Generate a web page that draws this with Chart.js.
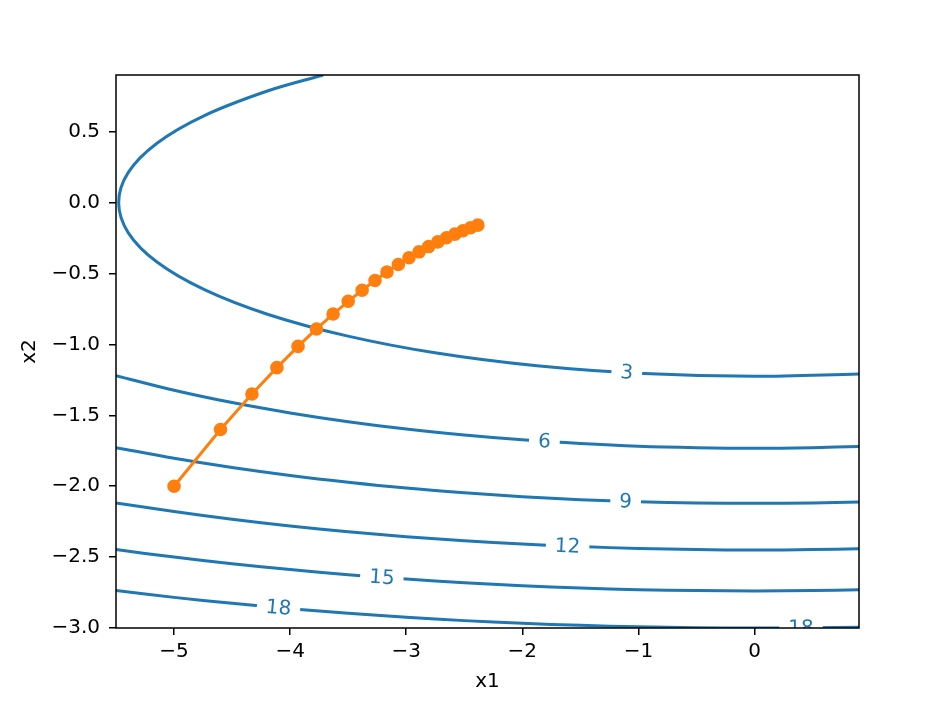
<!DOCTYPE html>
<html>
<head>
<meta charset="utf-8">
<script src="https://cdn.jsdelivr.net/npm/chart.js@4.4.1/dist/chart.umd.min.js"></script>
<style>
  html, body { margin: 0; padding: 0; background: #fff; }
</style>
</head>
<body>
<canvas id="c" width="941" height="702"></canvas>
<script>
// 等高线的级别
const contourLevels = [3, 6, 9, 12, 15, 18];

// 级别 3 的椭圆（可见部分）
const level3X1 = [-3.715, -4.196, -4.743, -5.147, -5.394, -5.477, -5.394, -5.147, -4.743, -4.196, -3.521, -2.739, -1.873, -0.951, 0.0, 0.9];
const level3X2 = [0.9, 0.787, 0.612, 0.419, 0.213, 0.0, -0.213, -0.419, -0.612, -0.787, -0.938, -1.061, -1.151, -1.206, -1.225, -1.208];

// 其余级别共用的 x1 取样点
const gridX1 = [-5.5, -5, -4.5, -4, -3.5, -3, -2.5, -2, -1.5, -1, -0.5, 0, 0.5, 0.9];
const level6X2 = [-1.220, -1.323, -1.410, -1.483, -1.545, -1.597, -1.639, -1.673, -1.699, -1.718, -1.728, -1.732, -1.728, -1.720];
const level9X2 = [-1.728, -1.803, -1.868, -1.924, -1.972, -2.013, -2.046, -2.074, -2.095, -2.110, -2.118, -2.121, -2.118, -2.112];
const level12X2 = [-2.118, -2.179, -2.233, -2.280, -2.321, -2.356, -2.385, -2.408, -2.426, -2.439, -2.447, -2.450, -2.447, -2.441];
const level15X2 = [-2.447, -2.500, -2.547, -2.588, -2.624, -2.655, -2.681, -2.702, -2.718, -2.730, -2.736, -2.739, -2.736, -2.731];
const level18X2 = [-2.736, -2.784, -2.826, -2.864, -2.896, -2.924, -2.948, -2.967, -2.981, -2.992, -2.998, -3.000, -2.998, -2.994];

// 优化轨迹
const trajX1 = [-5.0, -4.6, -4.329, -4.114, -3.932, -3.773, -3.630, -3.500, -3.380, -3.269, -3.166, -3.068, -2.976, -2.889, -2.807, -2.728, -2.653, -2.581, -2.512, -2.446, -2.383];
const trajX2 = [-2.0, -1.6, -1.350, -1.164, -1.014, -0.891, -0.786, -0.696, -0.618, -0.549, -0.489, -0.436, -0.389, -0.347, -0.310, -0.277, -0.248, -0.222, -0.198, -0.177, -0.159];

// 坐标轴刻度
const xTicks = [-5, -4, -3, -2, -1, 0];
const yTicks = [-3.0, -2.5, -2.0, -1.5, -1.0, -0.5, 0.0, 0.5];

// 等高线标签的位置（沿 x1）
const labelSpots = [
    { level: 3, x1: -1.10 },
    { level: 6, x1: -1.81 },
    { level: 9, x1: -1.11 },
    { level: 12, x1: -1.61 },
    { level: 15, x1: -3.21 },
    { level: 18, x1: -4.10 },
    { level: 18, x1: 0.40 }
];

const BLUE = '#1f77b4';
const ORANGE = '#ff7f0e';
const FONT = '"DejaVu Sans", sans-serif';
const FS = 20;

function toPoints(xs, ys) {
    return xs.map((x, i) => ({ x: x, y: ys[i] }));
}

function minus(s) {
    return String(s).replace('-', '\u2212');
}

const contourSeries = [
    toPoints(level3X1, level3X2),
    toPoints(gridX1, level6X2),
    toPoints(gridX1, level9X2),
    toPoints(gridX1, level12X2),
    toPoints(gridX1, level15X2),
    toPoints(gridX1, level18X2)
];

const datasets = contourSeries.map((pts, i) => ({
    label: String(contourLevels[i]),
    data: pts,
    showLine: true,
    borderColor: BLUE,
    borderWidth: 3,
    pointRadius: 0,
    tension: 0.35,
    order: 1
}));

datasets.push({
    label: 'trace',
    data: toPoints(trajX1, trajX2),
    showLine: true,
    borderColor: ORANGE,
    backgroundColor: ORANGE,
    borderWidth: 3,
    pointRadius: 5.8,
    pointBorderWidth: 2,
    pointBorderColor: ORANGE,
    pointBackgroundColor: ORANGE,
    tension: 0,
    order: 0
});

// 等高线标签和外框
const contourPlugin = {
    id: 'contourLabels',
    afterDatasetsDraw(chart) {
        const ctx = chart.ctx;
        const a = chart.chartArea;
        ctx.save();
        ctx.beginPath();
        ctx.rect(a.left, a.top, a.right - a.left, a.bottom - a.top);
        ctx.clip();
        ctx.font = FS + 'px ' + FONT;
        ctx.textAlign = 'center';
        ctx.textBaseline = 'middle';
        labelSpots.forEach(s => {
            const di = contourLevels.indexOf(s.level);
            const pts = chart.getDatasetMeta(di).data;
            const px = chart.scales.x.getPixelForValue(s.x1);
            for (let i = 0; i < pts.length - 1; i++) {
                const p = pts[i], q = pts[i + 1];
                if ((p.x - px) * (q.x - px) <= 0 && p.x !== q.x) {
                    const t = (px - p.x) / (q.x - p.x);
                    const py = p.y + t * (q.y - p.y);
                    let ang = Math.atan2(q.y - p.y, q.x - p.x);
                    if (ang > Math.PI / 2) ang -= Math.PI;
                    if (ang < -Math.PI / 2) ang += Math.PI;
                    const text = String(s.level);
                    const w = ctx.measureText(text).width;
                    ctx.save();
                    ctx.translate(px, py);
                    ctx.rotate(ang);
                    ctx.fillStyle = '#fff';
                    ctx.fillRect(-w / 2 - 9, -8, w + 18, 16);
                    ctx.fillStyle = BLUE;
                    ctx.fillText(text, 0, 1);
                    ctx.restore();
                    break;
                }
            }
        });
        ctx.restore();
    },
    afterDraw(chart) {
        const ctx = chart.ctx;
        const a = chart.chartArea;
        ctx.save();
        ctx.strokeStyle = '#000';
        ctx.lineWidth = 1.5;
        ctx.strokeRect(a.left, a.top, a.right - a.left, a.bottom - a.top);
        ctx.restore();
    }
};

const axisGrid = {
    display: true,
    drawOnChartArea: false,
    drawTicks: true,
    tickLength: 7,
    color: '#000',
    lineWidth: 1.5
};

new Chart(document.getElementById('c'), {
    type: 'scatter',
    data: { datasets: datasets },
    options: {
        responsive: false,
        animation: false,
        devicePixelRatio: 1,
        layout: { padding: { left: 0, top: 75, right: 82, bottom: 0 } },
        plugins: {
            legend: { display: false },
            tooltip: { enabled: false }
        },
        scales: {
            x: {
                type: 'linear',
                min: -5.5,
                max: 0.9,
                grid: axisGrid,
                border: { display: false },
                afterBuildTicks: scale => { scale.ticks = xTicks.map(v => ({ value: v })); },
                afterFit: scale => { scale.height = 74; },
                ticks: {
                    color: '#000',
                    padding: 5,
                    font: { family: FONT, size: FS },
                    callback: v => minus(v)
                },
                title: {
                    display: true,
                    text: 'x1',
                    color: '#000',
                    font: { family: FONT, size: FS },
                    padding: { top: 0, bottom: 8 }
                }
            },
            y: {
                type: 'linear',
                min: -3.0,
                max: 0.9,
                grid: axisGrid,
                border: { display: false },
                afterBuildTicks: scale => { scale.ticks = yTicks.map(v => ({ value: v })); },
                afterFit: scale => { scale.width = 116; },
                ticks: {
                    color: '#000',
                    padding: 9,
                    font: { family: FONT, size: FS },
                    callback: v => minus(Number(v).toFixed(1))
                },
                title: {
                    display: true,
                    text: 'x2',
                    color: '#000',
                    font: { family: FONT, size: FS },
                    padding: { top: 18, bottom: 0 }
                }
            }
        }
    },
    plugins: [contourPlugin]
});
</script>
</body>
</html>
